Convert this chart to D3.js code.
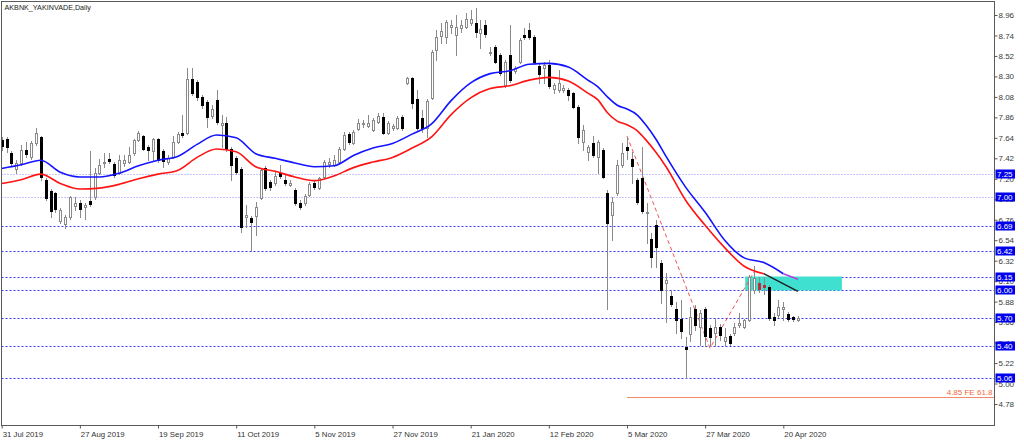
<!DOCTYPE html>
<html><head><meta charset="utf-8">
<script src="https://cdn.jsdelivr.net/npm/d3@7"></script>
<style>
body{margin:0;background:#fff;}
svg{display:block;font-family:"Liberation Sans",Arial,sans-serif;}
</style>
</head><body>
<svg id="chart" width="1024" height="440"></svg>
<script>
const title = "AKBNK_YAKINVADE,Daily";
const dateLabels = ["31 Jul 2019","27 Aug 2019","19 Sep 2019","11 Oct 2019","5 Nov 2019","27 Nov 2019","21 Jan 2020","12 Feb 2020","5 Mar 2020","27 Mar 2020","20 Apr 2020"];
const dateLabelIdx = [0,16,32,48,64,80,96,112,128,144,160];
const yTicks = [8.96,8.74,8.52,8.30,8.08,7.86,7.64,7.42,7.20,6.98,6.76,6.54,6.32,6.10,5.88,5.66,5.44,5.22,5.00,4.78];

const opens = [7.62,7.63,7.48,7.31,7.37,7.51,7.43,7.58,7.65,7.19,
7.07,7.05,6.75,6.71,6.79,6.91,6.94,6.90,6.96,7.00,
7.26,7.37,7.41,7.36,7.26,7.37,7.38,7.48,7.62,7.66,
7.54,7.50,7.63,7.50,7.38,7.43,7.60,7.69,7.69,8.27,
8.24,8.08,8.03,7.87,8.05,7.78,7.80,7.52,7.42,7.31,
6.79,6.78,6.80,6.99,7.32,7.17,7.15,7.26,7.19,7.13,
7.08,6.94,6.94,7.03,7.15,7.10,7.22,7.36,7.35,7.38,
7.52,7.68,7.58,7.73,7.79,7.77,7.72,7.81,7.86,7.69,
7.75,7.75,7.86,8.23,8.28,8.06,7.85,7.75,8.07,8.58,
8.73,8.72,8.83,8.75,8.82,8.83,8.87,8.87,8.77,8.85,
8.55,8.62,8.53,8.21,8.53,8.36,8.46,8.75,8.80,8.72,
8.41,8.39,8.42,8.17,8.15,8.15,8.15,8.12,7.97,7.60,
7.49,7.58,7.43,7.51,7.05,6.81,7.05,7.35,7.54,7.41,
7.19,7.21,6.83,6.55,6.70,6.30,6.08,5.94,5.80,5.69,
5.39,5.53,5.80,5.61,5.80,5.60,5.54,5.61,5.46,5.51,
5.54,5.63,5.61,5.68,6.01,6.08,6.06,6.04,5.71,5.74,
5.80,5.75,5.71,5.68];
const highs = [7.65,7.65,7.50,7.40,7.56,7.60,7.61,7.75,7.66,7.21,
7.09,7.06,6.89,6.81,7.01,7.00,6.97,6.94,7.50,7.32,
7.41,7.48,7.48,7.38,7.46,7.46,7.54,7.63,7.71,7.67,
7.56,7.64,7.64,7.52,7.46,7.66,7.70,7.89,8.39,8.39,
8.26,8.10,8.05,7.99,8.15,7.89,7.86,7.54,7.44,7.33,
6.92,6.80,6.95,7.32,7.34,7.19,7.27,7.35,7.25,7.19,
7.10,6.97,7.04,7.17,7.19,7.22,7.40,7.42,7.46,7.54,
7.70,7.70,7.72,7.84,7.83,7.89,7.85,7.91,7.91,7.82,
7.79,7.87,7.89,8.29,8.29,8.15,7.94,8.06,8.58,8.80,
8.87,8.91,8.91,8.96,8.91,8.98,9.01,9.04,8.91,8.91,
8.62,8.64,8.55,8.48,8.85,8.41,8.71,8.82,8.87,8.75,
8.43,8.46,8.48,8.23,8.37,8.21,8.18,8.13,7.99,7.78,
7.56,7.66,7.62,7.53,7.08,7.00,7.40,7.58,7.65,7.49,
7.21,7.54,6.94,6.62,6.76,6.33,6.19,6.01,5.88,5.90,
5.50,5.82,5.84,5.79,5.82,5.63,5.70,5.64,5.60,5.53,
5.65,5.76,5.69,6.17,6.26,6.15,6.15,6.06,5.76,5.90,
5.88,5.77,5.73,5.73];
const lows = [7.51,7.49,7.34,7.26,7.35,7.43,7.41,7.56,7.19,6.97,
6.79,6.84,6.72,6.67,6.77,6.86,6.79,6.77,6.91,6.98,
7.25,7.33,7.37,7.22,7.25,7.34,7.37,7.46,7.61,7.51,
7.40,7.40,7.38,7.33,7.36,7.42,7.58,7.65,7.68,8.10,
8.05,7.96,7.76,7.85,7.79,7.54,7.50,7.19,7.25,6.63,
6.68,6.42,6.60,6.98,7.08,7.08,7.13,7.21,7.13,7.12,
6.92,6.88,6.92,7.01,7.09,7.09,7.21,7.33,7.34,7.37,
7.51,7.57,7.57,7.72,7.76,7.76,7.71,7.80,7.68,7.68,
7.72,7.73,7.72,8.22,7.96,7.72,7.70,7.65,8.06,8.48,
8.66,8.66,8.77,8.53,8.78,8.82,8.85,8.72,8.61,8.72,
8.53,8.44,8.32,8.19,8.24,8.34,8.44,8.70,8.70,8.43,
8.23,8.23,8.18,8.12,8.13,8.13,8.05,7.96,7.58,7.51,
7.40,7.43,7.26,7.21,5.80,6.54,7.03,7.33,7.41,7.15,
6.93,6.83,6.51,6.25,6.25,5.87,5.66,5.83,5.54,5.49,
5.06,5.46,5.58,5.41,5.40,5.40,5.40,5.47,5.41,5.41,
5.52,5.61,5.60,5.67,5.97,5.98,5.96,5.68,5.63,5.71,
5.68,5.67,5.67,5.67];
const closes = [7.55,7.54,7.37,7.37,7.51,7.47,7.58,7.69,7.22,6.99,
6.85,6.88,6.86,6.79,7.00,6.94,6.88,6.92,6.93,7.26,
7.35,7.38,7.39,7.24,7.40,7.40,7.46,7.62,7.69,7.52,
7.51,7.63,7.40,7.39,7.42,7.60,7.68,7.67,8.27,8.12,
8.08,7.99,7.86,7.95,7.81,7.80,7.52,7.35,7.27,6.68,
6.81,6.74,6.90,7.29,7.10,7.11,7.23,7.23,7.15,7.15,
6.94,6.90,7.01,7.14,7.11,7.21,7.38,7.38,7.40,7.52,
7.67,7.60,7.70,7.80,7.80,7.80,7.83,7.87,7.69,7.80,
7.77,7.85,7.75,8.28,8.01,7.75,7.75,8.04,8.56,8.72,
8.79,8.88,8.85,8.83,8.85,8.92,8.92,8.78,8.81,8.76,
8.56,8.46,8.34,8.46,8.26,8.39,8.69,8.72,8.72,8.46,
8.33,8.42,8.20,8.21,8.23,8.18,8.10,7.97,7.65,7.72,
7.54,7.46,7.60,7.22,6.72,6.95,7.35,7.48,7.51,7.34,
6.95,6.85,6.84,6.36,6.47,6.01,6.11,5.85,5.68,5.56,
5.37,5.71,5.63,5.76,5.51,5.50,5.61,5.52,5.50,5.44,
5.61,5.65,5.68,6.15,6.13,6.02,6.04,5.70,5.68,5.82,
5.82,5.69,5.69,5.70];

// moving-average style bands
const maIdx   = [0,4,8,12,16,20,24,28,32,36,40,44,48,52,56,60,64,68,72,76,80,84,88,92,96,100,104,108,112,116,120,122,124,126,128,130,132,134,136,140,144,148,152,156,160];
const maUpper = [7.31,7.35,7.40,7.27,7.22,7.22,7.26,7.34,7.40,7.44,7.57,7.67,7.64,7.47,7.42,7.37,7.33,7.34,7.45,7.53,7.58,7.68,7.79,8.04,8.23,8.33,8.36,8.43,8.44,8.40,8.26,8.19,8.08,7.99,7.95,7.89,7.77,7.62,7.44,7.11,6.84,6.54,6.35,6.30,6.18];
const maLower = [7.15,7.19,7.25,7.15,7.09,7.10,7.14,7.20,7.25,7.29,7.43,7.52,7.49,7.33,7.28,7.22,7.18,7.23,7.32,7.38,7.43,7.53,7.65,7.89,8.07,8.17,8.20,8.26,8.29,8.25,8.12,8.05,7.91,7.82,7.78,7.72,7.61,7.48,7.33,6.97,6.70,6.46,6.26,6.18];
const upperTailIdx = [160,163];
const upperTail = [6.18,6.12];
const lowerTailIdx = [156,163];
const lowerTail = [6.18,5.99];

const levels = [7.25,7.00,6.69,6.42,6.15,6.00,5.70,5.40,5.06];
const zoneIdx = [152.2,172];
const zonePrice = [6.15,6.00];
const feIdx = [128,145,154];
const fePrice = [7.66,5.38,6.20];
const feLevel = 4.85;
const feLabel = "4.85 FE 61.8";

const svg = d3.select("#chart");
const L = 1.5, T = 1.5, R = 994.5, B = 425.5;
const x = d3.scaleLinear().domain([0,160]).range([1.7,783.3]);
const y = d3.scaleLinear().domain([4.78,8.96]).range([404,15]);

svg.append("defs").append("clipPath").attr("id","clip")
  .append("rect").attr("x",L).attr("y",T).attr("width",R-L).attr("height",B-T);
const g = svg.append("g").attr("clip-path","url(#clip)");

// horizontal levels
g.selectAll("line.lvl").data(levels).join("line")
  .attr("x1",L).attr("x2",R)
  .attr("y1",d=>Math.round(y(d))+0.5).attr("y2",d=>Math.round(y(d))+0.5)
  .attr("stroke",(d,i)=> i<2 ? "#9090ff" : "#3535f0")
  .attr("stroke-width",1)
  .attr("stroke-dasharray",(d,i)=> i<2 ? "1,2" : "2,2");

// zone
g.append("rect").attr("x",x(zoneIdx[0])).attr("width",x(zoneIdx[1])-x(zoneIdx[0]))
  .attr("y",y(zonePrice[0])).attr("height",y(zonePrice[1])-y(zonePrice[0]))
  .attr("fill","#40e0d0");

// FE level line
g.append("line").attr("x1",x(feIdx[0])).attr("x2",R)
  .attr("y1",Math.round(y(feLevel))+0.5).attr("y2",Math.round(y(feLevel))+0.5)
  .attr("stroke","#f08a6a").attr("stroke-width",1);

// FE dashed path
const fePts = feIdx.map((d,i)=>[x(d),y(fePrice[i])]);
g.append("path").attr("d",d3.line()(fePts)).attr("fill","none")
  .attr("stroke","#f05555").attr("stroke-width",1).attr("stroke-dasharray","4,3");

// candles
const idx = d3.range(opens.length);
const wickCol = "#8a8a8a";
g.selectAll("line.wick").data(idx).join("line")
  .attr("x1",i=>Math.round(x(i))+0.5).attr("x2",i=>Math.round(x(i))+0.5)
  .attr("y1",i=>Math.round(y(highs[i]))).attr("y2",i=>Math.round(y(lows[i]))+1)
  .attr("stroke",wickCol).attr("stroke-width",1);

const isHighlighted = i => closes[i] < opens[i] && i >= zoneIdx[0] && opens[i] <= zonePrice[0] && closes[i] >= zonePrice[1]-0.05;

g.selectAll("rect.bear").data(idx.filter(i=>closes[i]<opens[i])).join("rect")
  .attr("x",i=>Math.round(x(i))-1).attr("width",3)
  .attr("y",i=>Math.round(y(opens[i])))
  .attr("height",i=>Math.max(1,Math.round(y(closes[i]))-Math.round(y(opens[i]))+1))
  .attr("fill",i=>isHighlighted(i) ? "#c02c3c" : "#000");

g.selectAll("rect.bull").data(idx.filter(i=>closes[i]>=opens[i])).join("rect")
  .attr("x",i=>Math.round(x(i))-0.5).attr("width",2)
  .attr("y",i=>Math.round(y(closes[i]))+0.5)
  .attr("height",i=>Math.max(0.5,Math.round(y(opens[i]))-Math.round(y(closes[i]))))
  .attr("fill","#fff").attr("stroke",wickCol).attr("stroke-width",1);

// bands
const line = d3.line().curve(d3.curveMonotoneX);
g.append("path").attr("d",line(maIdx.map((d,i)=>[x(d),y(maUpper[i])])))
  .attr("fill","none").attr("stroke","#1414ff").attr("stroke-width",1.6);
g.append("path").attr("d",line(maIdx.slice(0,maLower.length).map((d,i)=>[x(d),y(maLower[i])])))
  .attr("fill","none").attr("stroke","#ff1414").attr("stroke-width",1.6);
g.append("path").attr("d",d3.line()(upperTailIdx.map((d,i)=>[x(d),y(upperTail[i])])))
  .attr("fill","none").attr("stroke","#b040e0").attr("stroke-width",1.6);
g.append("path").attr("d",d3.line()(lowerTailIdx.map((d,i)=>[x(d),y(lowerTail[i])])))
  .attr("fill","none").attr("stroke","#202020").attr("stroke-width",1.4);

// frame
svg.append("rect").attr("x",L).attr("y",T).attr("width",R-L).attr("height",B-T)
  .attr("fill","none").attr("stroke","#5a5a5a").attr("stroke-width",1);

// axes
const yAxis = svg.append("g").attr("transform",`translate(${R},0)`)
  .call(d3.axisRight(y).tickValues(yTicks).tickFormat(d3.format(".2f")).tickSize(3).tickPadding(1));
yAxis.select(".domain").remove();
yAxis.selectAll("line").attr("stroke","#555");
yAxis.selectAll("text").attr("font-size","8px").attr("fill","#3a3a3a")
  .attr("font-family","Liberation Sans, Arial, sans-serif");

const xAxis = svg.append("g").attr("transform",`translate(0,${B})`)
  .call(d3.axisBottom(x).tickValues(dateLabelIdx).tickFormat((d,i)=>dateLabels[i]).tickSize(3).tickPadding(3));
xAxis.select(".domain").remove();
xAxis.selectAll("line").attr("stroke","#555");
xAxis.selectAll("text").attr("font-size","7.8px").attr("fill","#333")
  .attr("text-anchor","start").attr("x",0.5)
  .attr("font-family","Liberation Sans, Arial, sans-serif");

// level boxes (drawn over the price scale, as in the reference)
const box = svg.append("g").selectAll("g").data(levels).join("g")
  .attr("transform",d=>`translate(${R+1},${Math.round(y(d))})`);
box.append("rect").attr("x",0).attr("y",-4.5).attr("width",19.5).attr("height",9).attr("fill","#0000ee");
box.append("text").attr("x",1.5).attr("dy","0.35em").attr("fill","#fff")
  .attr("font-size","8px").text(d=>d3.format(".2f")(d));

// FE label
svg.append("text").attr("x",R-2).attr("y",y(feLevel)-2.5).attr("text-anchor","end")
  .attr("fill","#f06a3a").attr("font-size","8px").text(feLabel);

// title
svg.append("text").attr("x",4.5).attr("y",10).attr("fill","#222").attr("font-size","7.2px").text(title);
</script>
</body></html>
